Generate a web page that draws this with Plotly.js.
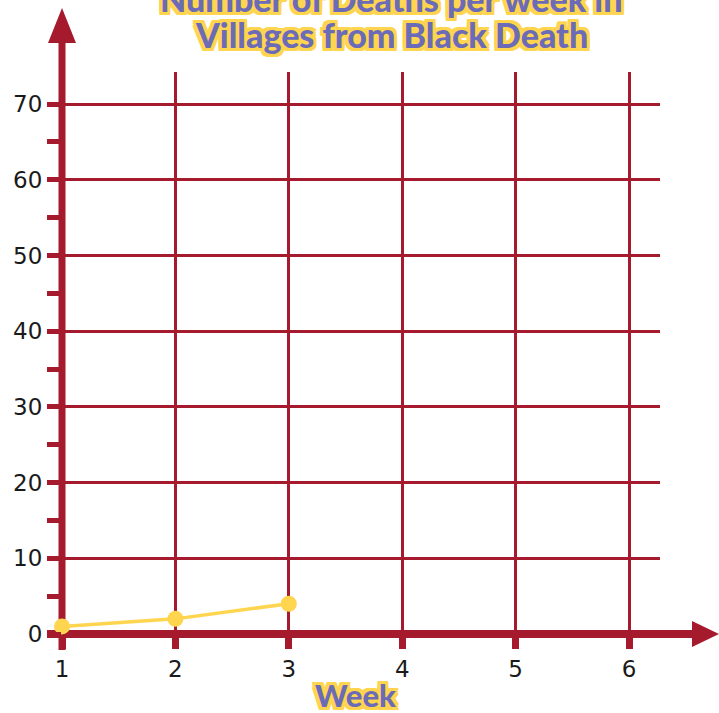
<!DOCTYPE html>
<html>
<head>
<meta charset="utf-8">
<script src="https://cdn.plot.ly/plotly-3.0.1.min.js"></script>
<style>html,body{margin:0;padding:0;background:#fff;}#chart{width:719px;height:713px;}</style>
</head>
<body>
<div id="chart"></div>
<script>
// ---- data ----
const weeks = [1, 2, 3];
const deaths = [1, 2, 4];
const xTickVals = [1, 2, 3, 4, 5, 6];
const yTickVals = [0, 10, 20, 30, 40, 50, 60, 70];
const titleLines = ["Number of Deaths per week in", "Villages from Black Death"];
const xTitle = "Week";

// ---- styling ----
const RED = "#a61a2e";
const YEL = "#ffd54f";
const BLUE = "#6b6bb8";
const W = 719, H = 713;
const M = {l: 62, r: 59, t: 72, b: 79};
const PW = W - M.l - M.r, PH = H - M.t - M.b;
const px = v => (v - M.l) / PW;           // pixel x -> paper
const py = v => (H - M.b - v) / PH;       // pixel y -> paper

const o = 3;
const outline = [[o,0],[-o,0],[0,o],[0,-o],[o,o],[-o,-o],[o,-o],[-o,o],[2,3],[3,2],[-2,3],[-3,2],[2,-3],[3,-2],[-2,-3],[-3,-2]]
  .map(d => `${d[0]}px ${d[1]}px 0 ${YEL}`).join(", ");
const titleFont = {family: "Lato, 'Open Sans', sans-serif", size: 34, color: BLUE, weight: 900, shadow: outline};
const weekFont = {family: "Lato, 'Open Sans', sans-serif", size: 31, color: BLUE, weight: 900, shadow: outline};

const trace = {
  x: weeks, y: deaths, type: "scatter", mode: "lines+markers",
  line: {color: YEL, width: 3.5},
  marker: {color: YEL, size: 16},
  cliponaxis: false, hoverinfo: "skip"
};

const shapes = [
  // y axis line
  {type: "line", xref: "paper", yref: "paper", x0: 0, x1: 0, y0: py(650), y1: py(40),
   line: {color: RED, width: 7}, layer: "between"},
  // y arrow head
  {type: "path", xref: "paper", yref: "paper",
   path: `M ${px(62)} ${py(8)} L ${px(48)} ${py(43)} L ${px(76)} ${py(43)} Z`,
   fillcolor: RED, line: {width: 0}, layer: "between"},
  // x axis line
  {type: "line", xref: "paper", yref: "paper", x0: px(47), x1: px(697), y0: 0, y1: 0,
   line: {color: RED, width: 8}, layer: "between"},
  // x arrow head
  {type: "path", xref: "paper", yref: "paper",
   path: `M ${px(719)} ${py(634)} L ${px(692)} ${py(621)} L ${px(692)} ${py(647)} Z`,
   fillcolor: RED, line: {width: 0}, layer: "between"}
];

const annotations = [
  {text: titleLines[0], xref: "paper", yref: "paper", x: px(391), y: py(-1), xanchor: "center", yanchor: "middle",
   showarrow: false, font: titleFont},
  {text: titleLines[1], xref: "paper", yref: "paper", x: px(391), y: py(34), xanchor: "center", yanchor: "middle",
   showarrow: false, font: titleFont},
  {text: xTitle, xref: "paper", yref: "paper", x: px(355), y: py(695), xanchor: "center", yanchor: "middle",
   showarrow: false, font: weekFont}
];

const tickFont = {family: "'DejaVu Sans', sans-serif", size: 23, color: "#1a1a1a"};

const layout = {
  width: W, height: H,
  margin: M,
  paper_bgcolor: "#ffffff", plot_bgcolor: "#ffffff",
  showlegend: false,
  xaxis: {
    range: [1, 1 + PW / 113.4], tickmode: "array", tickvals: xTickVals, ticktext: xTickVals.map(String),
    showgrid: true, gridcolor: RED, gridwidth: 3, zeroline: false, showline: false,
    ticks: "outside", ticklen: 14, tickwidth: 7, tickcolor: RED,
    tickfont: tickFont, fixedrange: true
  },
  yaxis: {
    range: [0, PH / 7.57], tickmode: "array", tickvals: yTickVals, ticktext: yTickVals.map(String),
    showgrid: true, gridcolor: RED, gridwidth: 3, zeroline: false, showline: false,
    ticks: "outside", ticklen: 14, tickwidth: 5, tickcolor: RED,
    minor: {dtick: 5, ticks: "outside", ticklen: 14, tickwidth: 5, tickcolor: RED, showgrid: false},
    tickfont: tickFont, fixedrange: true
  },
  shapes: shapes,
  annotations: annotations
};

Plotly.newPlot("chart", [trace], layout, {displayModeBar: false, staticPlot: true});
</script>
</body>
</html>
